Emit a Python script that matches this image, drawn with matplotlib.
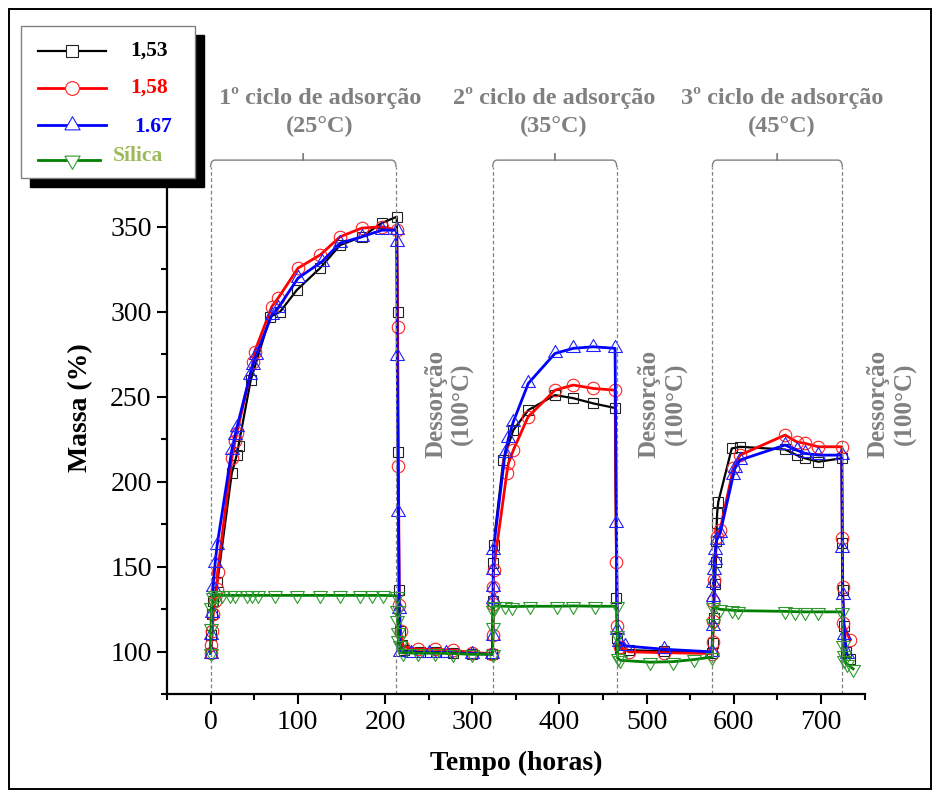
import matplotlib
matplotlib.use("Agg")
import matplotlib.pyplot as plt
from matplotlib.lines import Line2D
from matplotlib.patches import Rectangle, PathPatch
from matplotlib.path import Path
from matplotlib.ticker import MultipleLocator

plt.rcParams['font.family'] = ['Liberation Serif', 'DejaVu Serif']

# ---- data ----
t_153 = [0, 1, 2, 3, 7.8, 24.3, 30, 32, 46, 68.2, 79.7, 98.9, 125.6, 148.5, 173.4, 196.3,
         213.5, 214.5, 215, 216, 217, 219, 222, 240, 258, 278, 300, 323,
         324, 324.3, 324.5, 335.8, 347.2, 364.4, 395, 415.7, 439, 463.9,
         465.5, 466.5, 470, 480, 520, 575,
         576, 577, 578.5, 579.5, 580, 580.5, 581, 582.3, 597.7, 607.2, 658.9, 672.2, 681.8, 697, 723.9,
         724.5, 725, 726, 729, 733]
m_153 = [99.5, 110, 122, 130, 141.2, 205.1, 215.7, 221.2, 259.8, 297, 300, 312.8, 325.7, 339.2, 344.1, 352.2,
         355.9, 300, 217.6, 136.3, 112, 104, 101, 100, 100, 99.5, 99, 98.5,
         130, 152.2, 162.8, 212.8, 230.4, 242.2, 251, 249.2, 246.1, 243.4,
         131.6, 108, 102, 101, 100.3, 99.5,
         105, 120, 140, 153, 165, 175.7, 181.6, 188.2, 219.6, 220.6, 219, 215.7, 213.8, 211.8, 213.8,
         164, 136.5, 115, 100, 96]

t_158 = [0, 1, 2, 3, 5, 7.1, 8, 24.3, 28, 30, 48.7, 50.5, 70.2, 77.4, 100.3, 125.6, 148.5, 173.4, 196.3,
         213.5, 214.5, 215.4, 216.5, 218, 221, 238, 257, 278, 300, 323,
         324, 324.2, 324.3, 324.5, 339.7, 341.5, 347.2, 364.1, 395, 416, 439, 463.9,
         465.5, 466.5, 469, 480, 520, 575,
         576, 576.3, 576.6, 576.8, 580.5, 584.3, 599.5, 607.2, 658.9, 672.2, 681.8, 697, 723.9,
         724.5, 725, 725.7, 733.4]
m_158 = [99.5, 104, 112, 122, 130, 137, 146.7, 214, 224, 228.6, 270.6, 276.5, 303, 308, 325.7, 333.4, 344.1, 349.2, 350,
         348, 291, 209, 127.5, 112, 103, 101.5, 101.5, 101, 99.5, 99,
         110, 128, 138.2, 148, 205, 210.8, 218.6, 238.2, 253.9, 256.9, 254.9, 253.9,
         153, 115, 103, 100, 99.5, 99,
         106, 118, 130, 142.2, 167.6, 171.6, 207.9, 215.7, 227.5, 223.5, 222.6, 220.6, 220.6,
         167, 138.4, 116.7, 106.9]

t_167 = [0, 0.5, 1.5, 2.9, 5.2, 7.5, 24.3, 28.1, 30.4, 45.3, 48.4, 52.2, 70.2, 77.4, 100.3, 127.5, 148.5,
         173.4, 196.3, 213.5, 213.5, 214, 215.4, 216.5, 217.5, 230, 250, 270, 300, 323,
         323.6, 323.8, 324, 324.2, 324.3, 337.7, 341.5, 347.2, 364.4, 395, 416, 439, 463.9,
         465.5, 466.5, 468, 475, 520, 575,
         576, 576.6, 576.6, 577, 578, 579, 580.5, 584.3, 599.5, 601.4, 607.2, 658.9, 672.2, 681.8, 697, 723.9,
         724.5, 725, 727, 729.6]
m_167 = [99, 109.8, 122.6, 138.2, 152.2, 162.8, 218.6, 227.5, 232.4, 262.8, 268.6, 274.5, 298, 302.2, 319.8, 329.4, 340.4,
         344.1, 348, 348, 341.2, 274, 182.4, 125, 100, 99.5, 99.5, 99.5, 99, 98.5,
         109.5, 131, 138.2, 148, 159.8, 216.7, 225.5, 235.3, 257.9, 275.5, 278.5, 279.4, 278.5,
         175.7, 113, 106, 103.5, 101.5, 100,
         115, 132.4, 140.4, 148, 154, 160, 165.7, 169.6, 203.9, 207.9, 212.8, 221.6, 218.6, 216.7, 215.7, 215.7,
         161, 133.5, 110, 98.8]

t_sil = [0, 0.5, 1, 3, 5.2, 9, 12.8, 22.4, 28.1, 41.5, 47.2, 54.8, 74, 98.9, 125.5, 148.5, 171.4, 185, 198.3,
         213.5, 214, 214.3, 214.6, 215.5, 217, 221, 238, 257, 278, 300, 323.6,
         323.8, 324.2, 325, 337.7, 345.4, 366.4, 397, 416, 441, 465.8,
         466.3, 466.8, 470, 504, 530, 555, 575.5,
         575.8, 576.2, 584.3, 597.7, 605.3, 658.9, 670.4, 681.8, 697, 724.5,
         725, 726, 727, 729.6, 737]
m_sil = [99.6, 113.8, 126.5, 132.5, 133.4, 133.2, 133.2, 133.2, 133.2, 133.2, 133.2, 133.2, 133.2, 133.2, 133.2, 133.2, 133.2, 133.2, 133.2,
         133, 124.5, 118.6, 111.8, 107, 104, 99.5, 99.2, 99.2, 99, 98.5, 98.7,
         114.7, 124.5, 127, 126.8, 126.6, 126.8, 126.8, 127, 126.8, 126.8,
         110, 96.3, 95, 93.9, 94.2, 95.5, 97,
         116.7, 126.5, 125, 124.5, 124.2, 123.8, 123.6, 123.5, 123.5, 123.5,
         104, 98, 95, 93, 90]

series_labels = ['1,53', '1,58', '1.67', 'Sílica']

cycle_start = [0, 323.6, 575.5]
cycle_end = [212.7, 465.8, 724.5]
cycle_text = ['1º ciclo de adsorção\n(25°C)', '2º ciclo de adsorção\n(35°C)', '3º ciclo de adsorção\n(45°C)']
cycle_text_x = [125.6, 394, 655.4]
desorp_x = [273.5, 518.3, 781.5]

# ---- markers: triangles centred on their centroid ----
tri_up = [(-1, -0.577), (1, -0.577), (0, 1.155), (-1, -0.577)]
tri_down = [(-1, 0.577), (1, 0.577), (0, -1.155), (-1, 0.577)]

styles = [
    dict(color='black', lw=1.6, marker='s', ms=7.5, mec='#222222'),
    dict(color='#ff0000', lw=2.0, marker='o', ms=9, mec='#ff2020'),
    dict(color='#0000ff', lw=2.0, marker=tri_up, ms=11.5, mec='#2020ff'),
    dict(color='#008000', lw=2.0, marker=tri_down, ms=11.5, mec='#2e9a2e'),
]
label_colors = ['black', '#ff0000', '#0000ff', '#9bbb59']
gray = '#808080'

fig = plt.figure(figsize=(9.33, 7.90), dpi=100)
ax = fig.add_axes([0.179, 0.1211, 0.7476, 0.7253])

xs = [t_153, t_158, t_167, t_sil]
ys = [m_153, m_158, m_167, m_sil]
for x, y, st in zip(xs, ys, styles):
    ax.plot(x, y, mfc='none', mew=0.8, **st)

ax.set_xlim(-50, 750)
ax.set_ylim(75, 412)
ax.set_yticks(range(100, 351, 50))
ax.xaxis.set_major_locator(MultipleLocator(100))
ax.xaxis.set_minor_locator(MultipleLocator(50))
ax.yaxis.set_minor_locator(MultipleLocator(25))
for s in ['top', 'right']:
    ax.spines[s].set_visible(False)
for s in ['left', 'bottom']:
    ax.spines[s].set_linewidth(1.6)
ax.tick_params(which='major', direction='out', length=7, width=1.5, labelsize=20, pad=4)
ax.tick_params(which='minor', direction='out', length=4.5, width=1.5)
ax.set_xlabel('Tempo (horas)', fontsize=20, fontweight='bold', labelpad=12)
ax.set_ylabel('Massa (%)', fontsize=20, fontweight='bold', labelpad=12)

# cycle boundaries, brackets and annotations
r = 5
for a, b, txt, tx in zip(cycle_start, cycle_end, cycle_text, cycle_text_x):
    ax.vlines([a, b], 75, 385, colors=gray, linestyles=(0, (3, 2)), lw=0.9)
    m = (a + b) / 2
    verts = [(a, 385), (a, 389.2), (a + r, 389.2), (m, 389.2), (m, 393.3),
             (m, 389.2), (b - r, 389.2), (b, 389.2), (b, 385)]
    codes = [Path.MOVETO, Path.CURVE3, Path.CURVE3, Path.LINETO, Path.LINETO,
             Path.LINETO, Path.LINETO, Path.CURVE3, Path.CURVE3]
    ax.add_patch(PathPatch(Path(verts, codes), fill=False, ec=gray, lw=1.0, clip_on=False))
    ax.text(tx, 417.5, txt, ha='center', va='center', fontsize=17.5, fontweight='bold',
            color=gray, linespacing=1.42, clip_on=False)

for dx in desorp_x:
    ax.text(dx, 246, 'Dessorção\n(100°C)', rotation=90, ha='center', va='center',
            fontsize=18, fontweight='bold', color=gray, linespacing=1.2, clip_on=False)

# legend drawn by hand (box with offset shadow)
W, H = 933.0, 790.0
def fx(px):
    return px / W
def fy(py):
    return 1 - py / H

fig.add_artist(Rectangle((fx(30), fy(187)), 174 / W, 152 / H, transform=fig.transFigure,
                         fc='black', ec='black', zorder=5))
fig.add_artist(Rectangle((fx(21), fy(178)), 174 / W, 152 / H, transform=fig.transFigure,
                         fc='white', ec=gray, lw=1.0, zorder=6))
rows = [51, 88, 125, 160]
lab_x = [130, 130, 134, 113]
lab_y = [51, 88, 127, 156]
for i, st in enumerate(styles):
    x1 = 106 if i < 3 else 100
    fig.add_artist(Line2D([fx(38), fx(x1)], [fy(rows[i])] * 2, color=st['color'], lw=st['lw'],
                          transform=fig.transFigure, zorder=7))
    fig.add_artist(Line2D([fx(72)], [fy(rows[i])], marker=st['marker'], ms=st['ms'] * 1.1,
                          mfc='white', mec=st['mec'], mew=0.8, ls='none',
                          transform=fig.transFigure, zorder=8))
    fig.text(fx(lab_x[i]), fy(lab_y[i]), series_labels[i], color=label_colors[i],
             fontsize=15.5, fontweight='bold', ha='left', va='center', zorder=9)

# outer frame
fig.add_artist(Rectangle((fx(8.5), fy(789)), (931 - 8.5) / W, (789 - 8.5) / H,
                         transform=fig.transFigure, fill=False, ec='black', lw=1.4, zorder=10))

fig.savefig('out.png', dpi=100)
